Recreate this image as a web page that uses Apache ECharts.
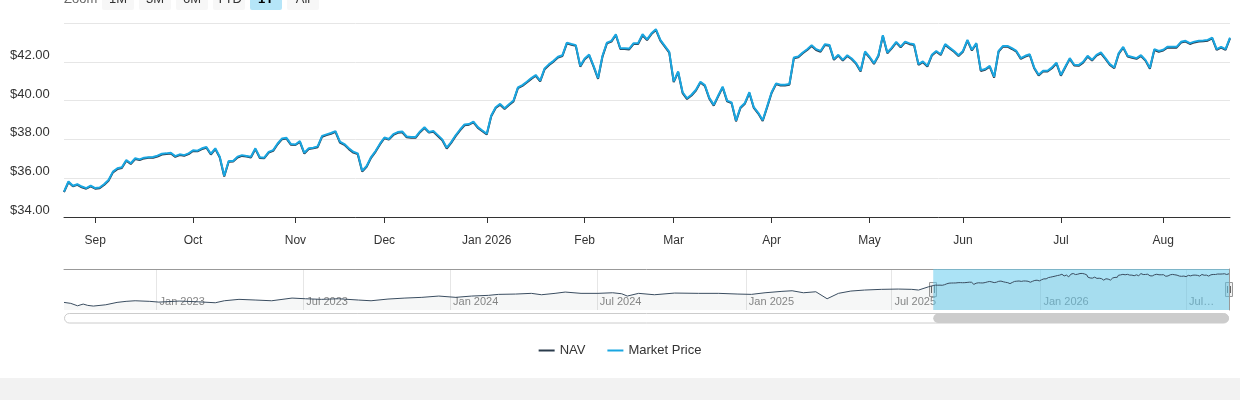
<!DOCTYPE html>
<html>
<head>
<meta charset="utf-8">
<script src="https://cdn.jsdelivr.net/npm/echarts@6/dist/echarts.min.js"></script>
<style>
html, body { margin: 0; padding: 0; background: #fff; }
#chart { width: 1240px; height: 400px; }
</style>
</head>
<body>
<div id="chart"></div>
<script>
// first trading day of the 1Y window, one value per weekday after it
var startDate = '2025-08-21';

var marketPrice = [
  35.31, 35.83, 35.61, 35.69, 35.57, 35.49, 35.62, 35.49, 35.52, 35.69,
  35.91, 36.34, 36.51, 36.56, 36.94, 36.77, 37.03, 36.97, 37.06, 37.08,
  37.09, 37.16, 37.26, 37.28, 37.31, 37.14, 37.23, 37.19, 37.28, 37.44,
  37.42, 37.54, 37.61, 37.26, 37.54, 37.11, 36.13, 36.89, 36.89, 37.11,
  37.19, 37.15, 37.11, 37.54, 37.08, 37.06, 37.36, 37.45, 37.79, 38.05,
  38.08, 37.76, 37.74, 37.91, 37.31, 37.54, 37.57, 37.64, 38.18, 38.26,
  38.33, 38.43, 37.88, 37.76, 37.54, 37.36, 37.28, 36.38,
  36.63, 37.09, 37.40, 37.78, 38.10, 38.02, 38.27, 38.38, 38.41, 38.15,
  38.12, 38.12, 38.41, 38.63, 38.38, 38.43, 38.22, 38.00, 37.57, 37.86,
  38.21, 38.51, 38.77, 38.79, 38.92, 38.63, 38.46, 38.29, 39.23, 39.66,
  39.83, 39.61, 39.81, 40.00, 40.68, 40.80, 40.97, 41.16, 41.32, 41.03,
  41.66, 41.88, 42.05, 42.26, 42.34, 42.99, 42.92, 42.86, 41.79, 42.17,
  42.37, 41.79, 41.16, 42.31, 42.99, 43.08, 43.42, 42.70, 42.70, 42.68,
  42.96, 42.96, 43.42, 43.16, 43.47,
  43.68, 43.13, 42.82, 42.51, 40.99, 41.50, 40.43, 40.12, 40.30, 40.56,
  40.97, 40.80, 40.14, 39.78, 40.26, 40.72, 40.00, 39.91, 38.97, 39.66,
  39.88, 40.43, 39.66, 39.37, 38.99, 39.70, 40.43, 40.89, 40.82, 40.82,
  40.86, 42.22, 42.27, 42.48, 42.65, 42.86, 42.65, 42.56, 42.91, 42.87,
  42.14, 42.36, 42.10, 42.34, 42.17, 41.93, 41.54, 42.53, 42.26, 41.93,
  42.34, 43.37, 42.48, 42.73, 43.03, 42.78, 43.04, 42.95, 42.91, 41.88,
  42.02, 41.79, 42.36, 42.56, 42.39, 42.91, 42.73,
  42.56, 42.34, 42.56, 43.13, 42.62, 42.96, 41.57, 41.63, 41.79, 41.23,
  42.56, 42.82, 42.82, 42.70, 42.56, 42.19, 42.31, 42.39, 41.71, 41.33,
  41.54, 41.54, 41.71, 41.96, 41.32, 41.76, 42.19, 41.85, 41.83, 42.00,
  42.31, 42.10, 42.36, 42.48, 42.19, 41.88, 41.71, 42.45, 42.77, 42.31,
  42.25, 42.19, 42.34, 42.10, 41.68, 42.65, 42.56, 42.62, 42.78, 42.77,
  42.77, 43.03, 43.08, 42.96, 43.04, 43.08, 43.10, 43.13, 43.25, 42.65,
  42.77, 42.65, 43.25
];

var nav = [
  35.28, 35.79, 35.58, 35.66, 35.53, 35.46, 35.58, 35.46, 35.48, 35.65,
  35.87, 36.30, 36.47, 36.53, 36.90, 36.73, 36.99, 36.94, 37.02, 37.05,
  37.05, 37.12, 37.22, 37.25, 37.27, 37.10, 37.19, 37.16, 37.24, 37.40,
  37.39, 37.50, 37.57, 37.22, 37.50, 37.07, 36.09, 36.85, 36.86, 37.07,
  37.15, 37.12, 37.07, 37.50, 37.04, 37.03, 37.32, 37.41, 37.75, 38.01,
  38.04, 37.72, 37.71, 37.87, 37.27, 37.50, 37.54, 37.60, 38.14, 38.22,
  38.29, 38.39, 37.84, 37.72, 37.50, 37.32, 37.24, 36.34,
  36.59, 37.05, 37.36, 37.74, 38.06, 37.99, 38.23, 38.34, 38.37, 38.11,
  38.09, 38.08, 38.37, 38.59, 38.35, 38.39, 38.18, 37.96, 37.53, 37.82,
  38.17, 38.47, 38.73, 38.76, 38.88, 38.59, 38.42, 38.25, 39.19, 39.62,
  39.79, 39.57, 39.77, 39.96, 40.64, 40.76, 40.93, 41.12, 41.28, 40.99,
  41.62, 41.84, 42.01, 42.22, 42.30, 42.95, 42.88, 42.82, 41.75, 42.13,
  42.33, 41.75, 41.12, 42.27, 42.95, 43.04, 43.38, 42.66, 42.66, 42.64,
  42.92, 42.92, 43.37, 43.12, 43.43,
  43.64, 43.09, 42.78, 42.47, 40.95, 41.46, 40.39, 40.08, 40.26, 40.52,
  40.93, 40.76, 40.10, 39.74, 40.22, 40.68, 39.96, 39.87, 38.93, 39.62,
  39.84, 40.39, 39.62, 39.33, 38.95, 39.66, 40.39, 40.85, 40.78, 40.78,
  40.82, 42.18, 42.23, 42.44, 42.61, 42.82, 42.61, 42.52, 42.87, 42.83,
  42.10, 42.32, 42.06, 42.30, 42.13, 41.89, 41.50, 42.49, 42.22, 41.89,
  42.30, 43.33, 42.44, 42.69, 42.99, 42.74, 43.00, 42.91, 42.87, 41.84,
  41.98, 41.75, 42.32, 42.52, 42.35, 42.87, 42.69,
  42.52, 42.30, 42.52, 43.09, 42.58, 42.92, 41.53, 41.59, 41.75, 41.19,
  42.52, 42.78, 42.78, 42.66, 42.52, 42.15, 42.27, 42.35, 41.67, 41.29,
  41.50, 41.50, 41.67, 41.92, 41.28, 41.72, 42.15, 41.81, 41.79, 41.96,
  42.27, 42.06, 42.32, 42.44, 42.15, 41.84, 41.67, 42.41, 42.73, 42.27,
  42.21, 42.15, 42.30, 42.06, 41.64, 42.61, 42.52, 42.58, 42.74, 42.73,
  42.73, 42.99, 43.04, 42.92, 43.00, 43.04, 43.06, 43.09, 43.21, 42.61,
  42.73, 42.61, 43.21
];

// older NAV history, only visible in the navigator
var historyStart = '2022-09-08';
var historyDates = [
  '2022-09-08', '2022-09-16', '2022-09-26', '2022-10-03', '2022-10-07', '2022-10-14',
  '2022-10-31', '2022-11-14', '2022-11-24', '2022-12-06', '2022-12-23', '2023-01-04',
  '2023-01-30', '2023-02-22', '2023-03-15', '2023-03-27', '2023-04-13', '2023-05-04',
  '2023-05-24', '2023-06-19', '2023-07-05', '2023-07-25', '2023-08-15', '2023-09-08',
  '2023-09-25', '2023-10-16', '2023-11-06', '2023-11-27', '2023-12-18', '2024-01-08',
  '2024-01-26', '2024-02-16', '2024-02-29', '2024-03-21', '2024-04-10', '2024-04-23',
  '2024-05-09', '2024-05-22', '2024-06-11', '2024-07-02', '2024-07-19', '2024-07-31',
  '2024-08-07', '2024-08-21', '2024-09-10', '2024-10-04', '2024-11-04', '2024-11-28',
  '2024-12-23', '2025-01-08', '2025-01-24', '2025-02-14', '2025-02-27', '2025-03-13',
  '2025-03-28', '2025-04-11', '2025-04-25', '2025-05-12', '2025-05-28', '2025-06-18',
  '2025-07-09', '2025-07-25', '2025-08-04', '2025-08-15'
];
var historyNav = [
  24.00, 23.35, 21.74, 22.88, 22.00, 21.54,
  22.41, 24.00, 24.70, 25.10, 24.70, 24.20,
  24.90, 24.40, 23.76, 25.10, 26.04, 25.57,
  25.10, 26.90, 26.44, 26.04, 26.44, 25.57,
  25.10, 26.24, 26.90, 27.38, 28.25, 27.38,
  28.25, 28.72, 29.39, 29.60, 30.07, 29.13,
  30.07, 30.94, 30.07, 30.07, 30.47, 29.80,
  28.25, 30.07, 29.13, 30.27, 30.07, 30.07,
  29.60, 29.39, 30.47, 31.41, 31.81, 30.47,
  31.14, 26.44, 30.07, 31.61, 32.28, 32.75,
  32.95, 32.75, 32.28, 34.50
];

var mainTickMonths = ['2025-09', '2025-10', '2025-11', '2025-12', '2026-01', '2026-02',
  '2026-03', '2026-04', '2026-05', '2026-06', '2026-07', '2026-08'];
var mainTickLabels = ['Sep', 'Oct', 'Nov', 'Dec', 'Jan 2026', 'Feb',
  'Mar', 'Apr', 'May', 'Jun', 'Jul', 'Aug'];
var navTickMonths = ['2023-01', '2023-07', '2024-01', '2024-07', '2025-01', '2025-07', '2026-01', '2026-07'];
var navTickLabels = ['Jan 2023', 'Jul 2023', 'Jan 2024', 'Jul 2024', 'Jan 2025', 'Jul 2025', 'Jan 2026', 'Jul\u2026'];
var rangeButtons = ['1M', '3M', '6M', 'YTD', '1Y', 'All'];

var FONT = '"Liberation Sans", Arial, sans-serif';

function isoDay(d) { return d.toISOString().slice(0, 10); }

function weekdaysFrom(start, n) {
  var out = [];
  var d = new Date(start + 'T00:00:00Z');
  while (out.length < n) {
    var w = d.getUTCDay();
    if (w !== 0 && w !== 6) out.push(isoDay(d));
    d.setUTCDate(d.getUTCDate() + 1);
  }
  return out;
}

function weekdaysBetween(start, end) {
  var out = [];
  var d = new Date(start + 'T00:00:00Z');
  while (isoDay(d) <= end) {
    var w = d.getUTCDay();
    if (w !== 0 && w !== 6) out.push(isoDay(d));
    d.setUTCDate(d.getUTCDate() + 1);
  }
  return out;
}

var mainDates = weekdaysFrom(startDate, marketPrice.length);
var lastDate = mainDates[mainDates.length - 1];
var navDates = weekdaysBetween(historyStart, lastDate);

// navigator line: sparse history + the daily NAV of the last year
var navPos = {};
navDates.forEach(function (d, i) { navPos[d] = i; });
var navigatorData = navDates.map(function () { return null; });
historyDates.forEach(function (d, i) {
  if (navPos[d] !== undefined) navigatorData[navPos[d]] = historyNav[i];
});
mainDates.forEach(function (d, i) { navigatorData[navPos[d]] = nav[i]; });

function monthStart(list, months) {
  return function (i, v) {
    if (i === 0) return false;
    var m = v.slice(0, 7);
    return m !== list[i - 1].slice(0, 7) && months.indexOf(m) >= 0;
  };
}
var mainTickFn = monthStart(mainDates, mainTickMonths);
var navTickFn = monthStart(navDates, navTickMonths);

var chart = echarts.init(document.getElementById('chart'));

var option = {
  animation: false,
  textStyle: { fontFamily: FONT },
  legend: {
    data: ['NAV', 'Market Price'],
    left: 'center',
    top: 339,
    icon: 'rect',
    itemWidth: 16,
    itemHeight: 2,
    itemGap: 22,
    textStyle: { fontSize: 13, color: '#333', fontFamily: FONT }
  },
  grid: [
    { left: 64, right: 10, top: 23, height: 194 },
    { left: 64, right: 11, top: 269, height: 41 }
  ],
  xAxis: [
    {
      type: 'category',
      gridIndex: 0,
      data: mainDates,
      boundaryGap: false,
      axisLine: { lineStyle: { color: '#333', width: 1 } },
      axisTick: { interval: mainTickFn, length: 6, lineStyle: { color: '#333' } },
      axisLabel: {
        interval: mainTickFn,
        margin: 18,
        fontSize: 12,
        color: '#333',
        fontFamily: FONT,
        formatter: function (v) { return mainTickLabels[mainTickMonths.indexOf(v.slice(0, 7))]; }
      },
      splitLine: { show: false }
    },
    {
      type: 'category',
      gridIndex: 1,
      data: navDates,
      boundaryGap: false,
      axisLine: { show: false },
      axisTick: { show: false },
      axisLabel: {
        interval: navTickFn,
        inside: true,
        margin: 3,
        align: 'left',
        padding: [0, 0, 0, 3],
        fontSize: 11,
        color: '#888',
        fontFamily: FONT,
        formatter: function (v) { return navTickLabels[navTickMonths.indexOf(v.slice(0, 7))]; }
      },
      splitLine: { show: true, interval: navTickFn, lineStyle: { color: '#e6e6e6' } }
    },
    {
      type: 'category',
      gridIndex: 1,
      position: 'top',
      data: navDates,
      boundaryGap: false,
      axisLine: { lineStyle: { color: '#999' } },
      axisTick: { show: false },
      axisLabel: { show: false },
      splitLine: { show: false }
    }
  ],
  yAxis: [
    {
      type: 'value',
      gridIndex: 0,
      min: 34,
      max: 44,
      interval: 2,
      axisLine: { show: false },
      axisTick: { show: false },
      axisLabel: {
        showMaxLabel: false,
        align: 'left',
        margin: 54,
        verticalAlign: 'bottom',
        fontSize: 13,
        color: '#333',
        fontFamily: FONT,
        formatter: function (v) { return '$' + v.toFixed(2); }
      },
      splitLine: { lineStyle: { color: '#e6e6e6' } }
    },
    {
      type: 'value',
      gridIndex: 1,
      position: 'right',
      min: 18.9,
      max: 46.4,
      axisLine: { show: true, lineStyle: { color: '#999' } },
      axisTick: { show: false },
      axisLabel: { show: false },
      splitLine: { show: false }
    }
  ],
  series: [
    {
      name: 'NAV',
      type: 'line',
      xAxisIndex: 0,
      yAxisIndex: 0,
      data: nav,
      showSymbol: false,
      color: '#2a3b4c',
      lineStyle: { width: 2, color: '#2a3b4c' }
    },
    {
      name: 'Market Price',
      type: 'line',
      xAxisIndex: 0,
      yAxisIndex: 0,
      data: marketPrice,
      showSymbol: false,
      color: '#19a6e1',
      lineStyle: { width: 2, color: '#19a6e1' }
    },
    {
      name: 'navigator',
      type: 'line',
      xAxisIndex: 1,
      yAxisIndex: 1,
      data: navigatorData,
      connectNulls: true,
      showSymbol: false,
      silent: true,
      lineStyle: { width: 1, color: '#3a4d60' },
      areaStyle: { color: 'rgba(42,59,76,0.06)', origin: 'start' },
      markArea: {
        silent: true,
        itemStyle: { color: 'rgba(102,204,238,0.55)' },
        data: [[{ xAxis: startDate }, { xAxis: lastDate }]]
      }
    }
  ]
};

chart.setOption(option);

// range selector, navigator handles, scrollbar and footer band
var selX0 = chart.convertToPixel({ xAxisIndex: 1 }, startDate);
var selX1 = chart.convertToPixel({ xAxisIndex: 1 }, lastDate);
var gfx = [];

gfx.push({ type: 'rect', silent: true, shape: { x: 0, y: 378, width: 1240, height: 22 }, style: { fill: '#f2f2f2' } });

gfx.push({ type: 'text', silent: true, x: 64, y: -1,
  style: { text: 'Zoom', font: '13px ' + FONT, fill: '#666', align: 'left', verticalAlign: 'middle' } });
rangeButtons.forEach(function (b, i) {
  var bx = 102 + i * 37;
  var on = b === '1Y';
  gfx.push({ type: 'rect', silent: true, shape: { x: bx, y: -12, width: 32, height: 22, r: 2 },
    style: { fill: on ? '#b5e5f8' : '#f7f7f7' } });
  gfx.push({ type: 'text', silent: true, x: bx + 16, y: -1,
    style: { text: b, font: (on ? 'bold ' : '') + '13px ' + FONT, fill: on ? '#000' : '#333',
      align: 'center', verticalAlign: 'middle' } });
});

gfx.push({ type: 'rect', silent: true, shape: { x: 64.5, y: 313.5, width: 1164, height: 9.5, r: 5 },
  style: { fill: '#fff', stroke: '#ccc', lineWidth: 1 } });
gfx.push({ type: 'rect', silent: true, shape: { x: selX0, y: 313.5, width: selX1 - selX0, height: 9.5, r: 5 },
  style: { fill: '#cccccc' } });

[selX0, selX1].forEach(function (hx) {
  var cx = Math.round(hx);
  gfx.push({ type: 'rect', silent: true, shape: { x: cx - 3.5, y: 282.5, width: 7, height: 14 },
    style: { fill: '#f2f2f2', stroke: '#999', lineWidth: 1 } });
  gfx.push({ type: 'line', silent: true, shape: { x1: cx - 1.5, y1: 286, x2: cx - 1.5, y2: 293 },
    style: { stroke: '#666', lineWidth: 1 } });
  gfx.push({ type: 'line', silent: true, shape: { x1: cx + 1.5, y1: 286, x2: cx + 1.5, y2: 293 },
    style: { stroke: '#666', lineWidth: 1 } });
});

chart.setOption({ graphic: gfx });
</script>
</body>
</html>
